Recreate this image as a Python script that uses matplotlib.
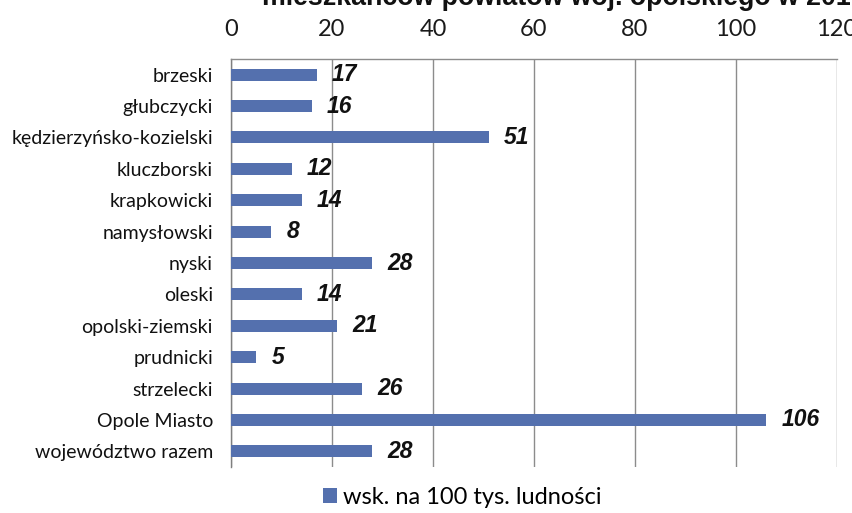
import matplotlib
matplotlib.use("Agg")
import matplotlib.pyplot as plt
from matplotlib.patches import Patch

# Wskaźnik na 100 tys. ludności według powiatów
districts = [
    "brzeski", "głubczycki", "kędzierzyńsko-kozielski", "kluczborski",
    "krapkowicki", "namysłowski", "nyski", "oleski", "opolski-ziemski",
    "prudnicki", "strzelecki", "Opole Miasto", "województwo razem",
]
rate = [17, 16, 51, 12, 14, 8, 28, 14, 21, 5, 26, 106, 28]
x_ticks = [0, 20, 40, 60, 80, 100, 120]
series_label = "wsk. na 100 tys. ludności"
title_text = "mieszkańców powiatów woj. opolskiego w 201"

bar_color = "#5470AE"
grid_color = "#8C8C8C"

fig = plt.figure(figsize=(8.53, 5.13), dpi=100)
fig.patch.set_facecolor("white")
ax = fig.add_axes([231 / 853, 1 - 467 / 513, (837 - 231) / 853, (467 - 59) / 513])

ypos = list(range(len(districts)))
ax.barh(ypos, rate, height=0.38, color=bar_color, zorder=3)
ax.set_ylim(len(districts) - 0.5, -0.5)
ax.set_xlim(0, 120)

for y, v in zip(ypos, rate):
    ax.text(v + 3.0, y, f"{v}", va="center", ha="left",
            fontsize=16.5, fontweight="bold", fontstyle="italic",
            family="Liberation Sans", color="#111111", zorder=4)

ax.set_xticks(x_ticks)
ax.set_xticklabels([str(t) for t in x_ticks], family="Lato", fontsize=17, color="#1a1a1a")
ax.xaxis.tick_top()
ax.tick_params(axis="x", length=0, pad=14)
ax.set_yticks(ypos)
ax.set_yticklabels(districts, family="Lato", fontsize=14, color="#111111")
ax.tick_params(axis="y", length=0, pad=13)

ax.grid(axis="x", color=grid_color, linewidth=1.0, zorder=1)
for side in ("right", "bottom"):
    ax.spines[side].set_visible(False)
ax.spines["top"].set_color(grid_color)
ax.spines["left"].set_color("#7F7F7F")
ax.spines["top"].set_linewidth(1.0)
ax.spines["left"].set_linewidth(1.0)

fig.legend(handles=[Patch(facecolor=bar_color, edgecolor="none", label=series_label)],
           loc="center", bbox_to_anchor=(462 / 853, 1 - 497 / 513), frameon=False,
           prop={"family": "Lato", "size": 17}, handlelength=0.6, handleheight=0.6,
           handletextpad=0.25)

fig.text(262 / 853, 1 - 5 / 513, title_text, ha="left", va="baseline",
         fontsize=19.3, fontweight="bold", family="Liberation Sans", color="#111111")

fig.savefig("out.png", dpi=100)
